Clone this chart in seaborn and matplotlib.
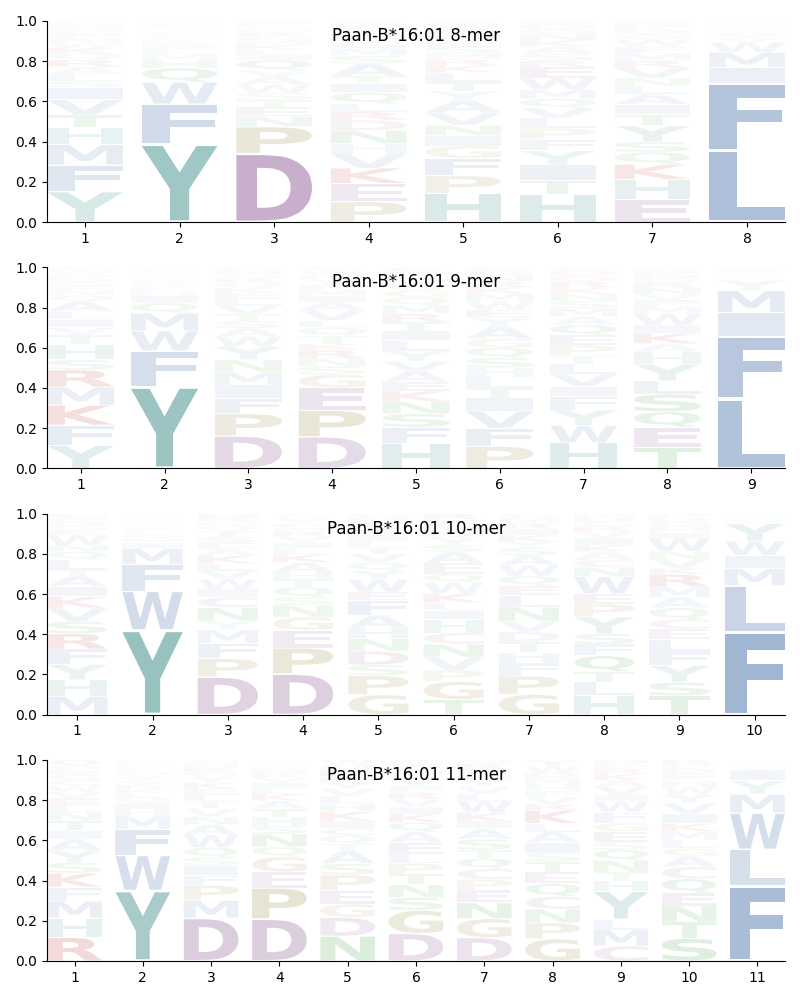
import matplotlib
matplotlib.use("Agg")
import matplotlib.pyplot as plt
import seaborn as sns
from matplotlib.textpath import TextPath
from matplotlib.patches import PathPatch
from matplotlib.font_manager import FontProperties
from matplotlib.transforms import Affine2D

# letters per position, listed bottom -> top, with their frequencies
titles = ["Paan-B*16:01 8-mer", "Paan-B*16:01 9-mer",
          "Paan-B*16:01 10-mer", "Paan-B*16:01 11-mer"]

letters_8 = ["YFMHTVISLARQKWNECDGP", "YFWQHMLIRKCVSTNAEGPD", "DPNETSWAVQILKMGRHYFC",
             "PEKVHNDRLQITASMGFYWC", "HPFGINVAYTLKRMSEQDWC", "HTIYFPLVQMWERSAKNGDC",
             "EHKQSYTIALNVRMFWGDPC", "LFIMWVYATCKRHQSG"]
values_8 = [
    [.15, .13, .10, .085, .06, .075, .06, .03, .035, .035, .035, .03, .03, .025, .02, .02, .02, .015, .015, .015],
    [.39, .20, .11, .07, .04, .03, .02, .02, .015, .015, .015, .015, .01, .01, .01, .01, .01, .005, .005, .005],
    [.335, .13, .05, .045, .035, .035, .04, .04, .03, .05, .025, .025, .025, .02, .02, .02, .015, .015, .015, .01],
    [.10, .09, .075, .07, .05, .065, .05, .04, .04, .055, .045, .035, .06, .04, .035, .035, .03, .03, .025, .015],
    [.14, .085, .085, .06, .05, .05, .06, .06, .045, .045, .045, .035, .03, .03, .03, .03, .03, .025, .025, .015],
    [.135, .07, .075, .07, .055, .055, .05, .05, .045, .045, .055, .055, .03, .035, .035, .03, .03, .025, .025, .015],
    [.11, .10, .075, .06, .05, .08, .055, .05, .05, .04, .04, .05, .035, .035, .035, .035, .025, .025, .025, .015],
    [.355, .33, .08, .075, .05, .02, .02, .015, .01, .01, .005, .005, .005, .005, .005, .005],
]

letters_9 = ["YFKMRSHTVILAQNEGDPWC", "YFWMQIHLRVKTSNACEGPD", "DPFIMNYWASTVLEKQRGHC",
             "DPEGSNRKTQLVAIMFYHWC", "HFSNKEAVYLITRMQGWDPC", "PFVITLHSQGAYEWMKRNDC",
             "HWYFIVLTPEQAMSNKRGDC", "TEQSLYHAKIWMFVNRGDPC", "LFIMYVWATCKRQ"]
values_9 = [
    [.115, .10, .10, .09, .085, .05, .075, .05, .035, .04, .04, .05, .03, .025, .02, .02, .02, .02, .02, .015],
    [.41, .18, .10, .09, .05, .035, .02, .02, .015, .015, .01, .01, .01, .01, .01, .005, .005, .005, .005, .005],
    [.16, .11, .075, .065, .065, .06, .065, .05, .04, .035, .035, .04, .035, .03, .025, .025, .02, .02, .02, .015],
    [.155, .13, .11, .065, .04, .04, .04, .03, .04, .04, .035, .05, .04, .03, .03, .025, .025, .025, .02, .015],
    [.12, .08, .065, .06, .05, .045, .05, .05, .05, .05, .045, .045, .04, .04, .04, .035, .03, .03, .03, .02],
    [.11, .09, .085, .065, .05, .055, .045, .05, .05, .045, .06, .045, .04, .04, .04, .03, .03, .03, .025, .015],
    [.125, .085, .075, .065, .05, .06, .05, .04, .05, .05, .05, .04, .04, .035, .035, .03, .03, .03, .025, .015],
    [.10, .10, .075, .085, .065, .08, .06, .04, .05, .04, .055, .035, .03, .03, .03, .025, .02, .02, .02, .015],
    [.345, .31, .12, .11, .05, .015, .01, .01, .01, .005, .005, .005, .005],
]

letters_10 = ["MHYFRSVKIATLQNWEGDPC", "YWFMIHQLRVKTSNACEGPD", "DPFMYNCIWVLKAESTQGRH",
              "DPEGNSQTHAKLIVRMFYWC", "GPSDNHAFEWYQVTLIKRMC", "TGPVNCHILKWQEASYDMFR",
              "GPFHTDVNLEQWASYKIRMC", "HLTQFSYPEWNCAKIVRGDM", "TSYFLECQAMRKVNWIHGDP",
              "FLMIWYVATCKH"]
values_10 = [
    [.09, .08, .075, .075, .075, .06, .065, .055, .05, .05, .03, .05, .04, .03, .05, .025, .02, .02, .02, .02],
    [.425, .195, .135, .08, .03, .02, .02, .02, .01, .01, .01, .01, .01, .005, .005, .005, .005, .005, .005, .005],
    [.185, .09, .075, .065, .045, .065, .05, .04, .05, .04, .035, .04, .03, .03, .03, .03, .025, .02, .02, .02],
    [.205, .13, .09, .065, .06, .04, .05, .04, .035, .05, .04, .03, .03, .03, .025, .02, .02, .02, .015, .015],
    [.095, .09, .05, .065, .06, .05, .06, .07, .04, .06, .04, .04, .04, .03, .03, .03, .03, .025, .025, .02],
    [.075, .09, .055, .065, .065, .055, .065, .045, .04, .045, .055, .04, .055, .055, .035, .035, .03, .03, .03, .03],
    [.095, .085, .06, .05, .05, .045, .05, .065, .055, .045, .045, .05, .045, .035, .03, .03, .03, .025, .025, .02],
    [.09, .065, .05, .075, .055, .05, .08, .06, .05, .08, .045, .035, .04, .03, .035, .03, .025, .02, .02, .02],
    [.09, .065, .08, .065, .06, .05, .045, .055, .05, .05, .06, .03, .045, .035, .06, .03, .025, .025, .02, .02],
    [.405, .23, .085, .065, .07, .085, .015, .01, .01, .005, .005, .005],
]

letters_11 = ["RHMFKSYAITNLEVWCGDPQ", "YWFMHIQLKRVTSNACEGPD", "DMPFISQWANVTLEKYGRHC",
              "DPEGQNSHTAKLIVRMFYWC", "NDGEPSATQCIKHLVYFRMW", "DGSNTPLEAQKIVRFYHMWC",
              "DGNEPCQTSAIKWLVYHFRM", "GPNCQETSIALKRVFHMDWY", "CMLYHTNQSEGFWIVAKRPD",
              "STNEQCAGLMKIVYWHFDPR", "FLWMYIVATCH"]
values_11 = [
    [.11, .09, .08, .065, .065, .05, .055, .055, .04, .045, .04, .035, .03, .03, .03, .025, .025, .02, .02, .03],
    [.35, .175, .13, .065, .035, .03, .025, .025, .02, .02, .02, .015, .015, .015, .01, .01, .01, .01, .01, .01],
    [.215, .09, .075, .05, .05, .04, .05, .065, .05, .04, .04, .035, .035, .03, .03, .03, .025, .02, .02, .02],
    [.21, .155, .08, .075, .05, .065, .04, .045, .04, .04, .035, .03, .025, .025, .02, .02, .015, .015, .01, .01],
    [.12, .09, .065, .065, .075, .055, .06, .035, .04, .035, .035, .045, .04, .035, .035, .03, .03, .03, .025, .025],
    [.13, .11, .06, .06, .05, .05, .045, .055, .05, .045, .04, .035, .035, .03, .03, .03, .025, .025, .025, .02],
    [.11, .09, .075, .06, .05, .05, .05, .04, .05, .05, .035, .04, .055, .035, .035, .03, .025, .025, .025, .02],
    [.105, .075, .065, .06, .06, .055, .05, .04, .05, .05, .04, .06, .03, .035, .03, .03, .03, .025, .03, .03],
    [.07, .075, .05, .13, .05, .04, .055, .05, .035, .05, .04, .05, .05, .03, .04, .03, .03, .025, .02, .02],
    [.105, .075, .075, .06, .065, .055, .05, .035, .04, .04, .035, .045, .05, .04, .035, .03, .03, .025, .02, .02],
    [.36, .175, .175, .09, .065, .05, .015, .01, .01, .01, .005],
]

motifs = [(letters_8, values_8), (letters_9, values_9),
          (letters_10, values_10), (letters_11, values_11)]

groups = {
    "#98afcf": "AVLIMFW",
    "#90bebc": "YH",
    "#b796bb": "DEC",
    "#bab080": "PG",
    "#d07070": "KR",
    "#80c080": "STNQ",
}
aa_color = {aa: col for col, aas in groups.items() for aa in aas}

sns.set_style("ticks", {"axes.edgecolor": "black", "xtick.color": "black",
                        "ytick.color": "black", "text.color": "black"})
plt.rcParams["font.family"] = ["DejaVu Sans"]

font = FontProperties(family="DejaVu Sans", weight="bold")
glyphs = {}


def draw_letter(ax, ch, x, y, w, h, color, alpha):
    if ch not in glyphs:
        glyphs[ch] = TextPath((0, 0), ch, size=1, prop=font)
    path = glyphs[ch]
    ext = path.get_extents()
    tr = (Affine2D().translate(-ext.x0, -ext.y0)
          .scale(w / ext.width, h / ext.height)
          .translate(x - w / 2, y))
    ax.add_patch(PathPatch(tr.transform_path(path), facecolor=color,
                           edgecolor="none", alpha=alpha, zorder=2))


fig, axes = plt.subplots(4, 1, figsize=(8, 10))
fig.subplots_adjust(left=0.059, right=0.981, top=0.979, bottom=0.039, hspace=0.224)

vpad = 0.05
for ax, title, (letters, values) in zip(axes, titles, motifs):
    n = len(letters)
    for i, (lets, vals) in enumerate(zip(letters, values)):
        pos = i + 1
        total = sum(vals)
        bottom = 0.0
        for ch, v in zip(lets, vals):
            p = v / total
            draw_letter(ax, ch, pos, bottom + p * vpad / 2, 0.8, p * (1 - vpad),
                        aa_color[ch], min(1.0, p / 0.45))
            bottom += p
    ax.set_xlim(0.6, n + 0.4)
    ax.set_ylim(0, 1)
    ax.set_xticks(range(1, n + 1))
    ax.set_yticks([0, 0.2, 0.4, 0.6, 0.8, 1.0])
    ax.text(0.5, 0.925, title, transform=ax.transAxes, ha="center",
            va="center", fontsize=12, zorder=5)
    sns.despine(ax=ax)

fig.savefig("out.png", dpi=100)
